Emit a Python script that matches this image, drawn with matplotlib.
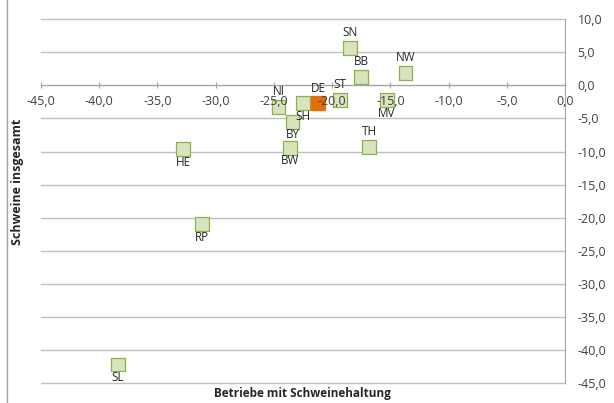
import matplotlib
matplotlib.use("Agg")
import matplotlib.pyplot as plt
from matplotlib.ticker import FuncFormatter, FixedLocator
from matplotlib.lines import Line2D

plt.rcParams['font.family'] = ['Open Sans', 'DejaVu Sans']

# Change in holdings with pigs (x) and in total pigs (y), per cent
regions = ["SN", "BB", "NW", "ST", "MV", "DE", "SH", "NI", "BY", "BW",
           "TH", "HE", "RP", "SL"]
betriebe = [-18.5, -17.5, -13.7, -19.3, -15.3, -21.2, -22.5, -24.6, -23.4,
            -23.6, -16.8, -32.8, -31.2, -38.4]
schweine = [5.7, 1.3, 1.9, -2.2, -2.2, -2.7, -2.7, -3.3, -5.5, -9.4,
            -9.3, -9.6, -21.0, -42.2]
label_side = ["above", "above", "above", "above", "below", "above", "below",
              "above", "below", "below", "above", "below", "below", "below"]

x_ticks = [-45, -40, -35, -30, -25, -20, -15, -10, -5, 0]
y_ticks = [10, 5, 0, -5, -10, -15, -20, -25, -30, -35, -40, -45]

W, H = 614, 403
fig = plt.figure(figsize=(W / 100, H / 100), dpi=100)
ax = fig.add_axes([41 / W, (H - 383) / H, (565 - 41) / W, (383 - 19.3) / H])
ax.set_xlim(-45, 0)
ax.set_ylim(-45, 10)

grid_col = "#bfbfbf"
for yv in y_ticks:
    ax.axhline(yv, color=grid_col, lw=1.0, zorder=0.5, clip_on=False)

fill = ["#e46c0a" if r == "DE" else "#d7e4bd" for r in regions]
edge = ["#e46c0a" if r == "DE" else "#8fb04e" for r in regions]
ax.scatter(betriebe, schweine, marker="s", s=100, c=fill, edgecolors=edge,
           linewidths=0.9, zorder=2)

for r, xv, yv, side in zip(regions, betriebe, schweine, label_side):
    dy = 11.0 if side == "above" else -9.5
    ax.annotate(r, (xv, yv), xytext=(0, dy), textcoords="offset points",
                ha="center", va="center", fontsize=8.5, color="#262626",
                zorder=3)

ax.set_axisbelow(False)
for s in ["top", "left"]:
    ax.spines[s].set_visible(False)
ax.spines["bottom"].set_position(("data", 0))
ax.spines["bottom"].set_color("#a6a6a6")
ax.spines["right"].set_color("#a6a6a6")
ax.spines["bottom"].set_zorder(1)
ax.spines["right"].set_zorder(1)

fmt = FuncFormatter(lambda v, p: f"{v:.1f}".replace(".", ","))
ax.xaxis.set_major_locator(FixedLocator(x_ticks))
ax.yaxis.set_major_locator(FixedLocator(y_ticks))
ax.xaxis.set_major_formatter(fmt)
ax.yaxis.set_major_formatter(fmt)
ax.yaxis.tick_right()
ax.tick_params(axis="x", direction="inout", length=4, width=0.8,
               color="#a6a6a6", pad=5, labelsize=9, labelcolor="#404040")
ax.tick_params(axis="y", length=0, pad=9, labelsize=9, labelcolor="#404040")
for lbl in ax.get_yticklabels():
    lbl.set_horizontalalignment("left")

fig.text(302 / W, 1 - 393 / H, "Betriebe mit Schweinehaltung", ha="center",
         va="center", fontsize=8.5, fontweight="bold", color="#262626")
fig.text(18 / W, 1 - 182 / H, "Schweine insgesamt", ha="center",
         va="center", rotation=90, fontsize=9, fontweight="bold",
         color="#262626")

fig.add_artist(Line2D([7 / W, 7 / W], [0, 1], transform=fig.transFigure,
                      color="#a0a0a0", lw=1.0))

fig.savefig("out.png", dpi=100)
